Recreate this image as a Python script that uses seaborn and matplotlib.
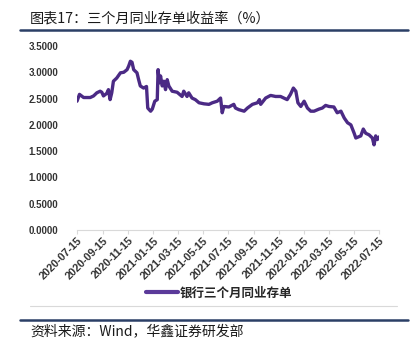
"""
Three-month interbank NCD yield (2020-07 to 2022-07), recreated with seaborn.
"""
import matplotlib
matplotlib.use("Agg")
import matplotlib.pyplot as plt
import matplotlib.dates as mdates
from matplotlib.lines import Line2D
import seaborn as sns
import pandas as pd

# values
dates = [
    "2020-07-15", "2020-07-21", "2020-07-31", "2020-08-16", "2020-08-24", "2020-09-01",
    "2020-09-09", "2020-09-13", "2020-09-17", "2020-09-25", "2020-09-29", "2020-10-03",
    "2020-10-07", "2020-10-11", "2020-10-19", "2020-10-28", "2020-11-05", "2020-11-13",
    "2020-11-17", "2020-11-21", "2020-11-25", "2020-11-29", "2020-12-07", "2020-12-11",
    "2020-12-15", "2020-12-23", "2020-12-30", "2021-01-02", "2021-01-09", "2021-01-13",
    "2021-01-19", "2021-01-25", "2021-01-27", "2021-01-30", "2021-02-02", "2021-02-06",
    "2021-02-10", "2021-02-14", "2021-02-18", "2021-02-22", "2021-03-02", "2021-03-14",
    "2021-03-26", "2021-03-30", "2021-04-07", "2021-04-11", "2021-04-19", "2021-04-27",
    "2021-05-06", "2021-05-18", "2021-05-30", "2021-06-07", "2021-06-19", "2021-06-27",
    "2021-07-01", "2021-07-05", "2021-07-17", "2021-07-29", "2021-08-02", "2021-08-10",
    "2021-08-23", "2021-08-31", "2021-09-12", "2021-09-24", "2021-09-29", "2021-10-02",
    "2021-10-14", "2021-10-26", "2021-11-07", "2021-11-19", "2021-12-05", "2021-12-13",
    "2021-12-20", "2021-12-26", "2021-12-31", "2022-01-07", "2022-01-15", "2022-01-23",
    "2022-01-31", "2022-02-08", "2022-02-20", "2022-02-28", "2022-03-08", "2022-03-16",
    "2022-03-28", "2022-04-05", "2022-04-14", "2022-04-22", "2022-04-30", "2022-05-08",
    "2022-05-16", "2022-05-20", "2022-06-01", "2022-06-07", "2022-06-13", "2022-06-21",
    "2022-06-29", "2022-07-03", "2022-07-07", "2022-07-11", "2022-07-15",
]
yields = [
    2.45, 2.58, 2.52, 2.52, 2.55, 2.61,
    2.64, 2.62, 2.55, 2.60, 2.67, 2.48,
    2.61, 2.83, 2.89, 2.99, 3.00, 3.05,
    3.12, 3.21, 3.19, 3.05, 2.99, 2.86,
    2.74, 2.70, 2.73, 2.32, 2.26, 2.30,
    2.45, 2.48, 3.05, 2.80, 2.93, 2.74,
    2.83, 2.67, 2.86, 2.74, 2.64, 2.62,
    2.54, 2.64, 2.54, 2.61, 2.51, 2.48,
    2.42, 2.40, 2.39, 2.42, 2.45, 2.51,
    2.23, 2.35, 2.34, 2.39, 2.32, 2.29,
    2.26, 2.32, 2.39, 2.42, 2.48, 2.39,
    2.51, 2.56, 2.54, 2.54, 2.48, 2.58,
    2.70, 2.64, 2.42, 2.35, 2.45, 2.32,
    2.26, 2.26, 2.30, 2.32, 2.37, 2.35,
    2.34, 2.23, 2.26, 2.13, 2.04, 2.00,
    1.84, 1.75, 1.79, 1.92, 1.84, 1.81,
    1.75, 1.62, 1.79, 1.72, 1.77,
]
tick_dates = [
    "2020-07-15", "2020-09-15", "2020-11-15", "2021-01-15", "2021-03-15", "2021-05-15",
    "2021-07-15", "2021-09-15", "2021-11-15", "2022-01-15", "2022-03-15", "2022-05-15",
    "2022-07-15",
]
y_ticks = [0.0, 0.5, 1.0, 1.5, 2.0, 2.5, 3.0, 3.5]
series_name = "银行三个月同业存单"
title = "图表17：三个月同业存单收益率（%）"
source = "资料来源：Wind，华鑫证券研发部"

df = pd.DataFrame({"date": pd.to_datetime(dates), "value": yields, "series": series_name})

sns.set_style("white")
plt.rcParams["font.family"] = ["Noto Sans CJK SC", "DejaVu Sans"]

W, H = 418, 352
fig = plt.figure(figsize=(W / 100, H / 100), dpi=100)
ax = fig.add_axes([77 / W, 1 - 230 / H, 302 / W, 184 / H])

sns.lineplot(data=df, x="date", y="value", hue="series", palette=["#4B2A85"],
             linewidth=2.4, ax=ax, legend=False)

ticks = pd.to_datetime(tick_dates)
ax.set_xlim(ticks[0], ticks[-1])
ax.set_ylim(0, 3.5)
ax.set_xticks(ticks)
ax.xaxis.set_major_formatter(mdates.DateFormatter("%Y-%m-%d"))
ax.set_yticks(y_ticks)
ax.set_yticklabels([f"{v:.4f}" for v in y_ticks])
ax.set_xlabel("")
ax.set_ylabel("")

for s in ["top", "right", "left"]:
    ax.spines[s].set_visible(False)
ax.spines["bottom"].set_color("#d9d9d9")
ax.spines["bottom"].set_linewidth(0.8)
ax.tick_params(axis="x", bottom=True, length=3, color="#d9d9d9", pad=1)
ax.tick_params(axis="y", left=False, pad=10)
for lab in ax.get_yticklabels():
    lab.set_family(["Liberation Sans", "DejaVu Sans"])
    lab.set_fontsize(7)
    lab.set_fontweight("bold")
    lab.set_color("#333333")
for lab in ax.get_xticklabels():
    lab.set_family(["Liberation Sans", "DejaVu Sans"])
    lab.set_fontsize(7.8)
    lab.set_fontweight("bold")
    lab.set_color("#333333")
    lab.set_rotation(45)
    lab.set_ha("right")
    lab.set_rotation_mode("anchor")

# legend
handle = Line2D([], [], color="#5B3A9A", linewidth=3)
fig.legend([handle], [series_name], loc="center", bbox_to_anchor=(219 / W, 1 - 293 / H),
           frameon=False, handlelength=2.6, handletextpad=0.1,
           prop={"family": ["Noto Sans CJK SC", "DejaVu Sans"], "size": 9, "weight": "bold"})

# title, rules and source
fig.text(30 / W, 1 - 18 / H, title, fontsize=10.2, color="#1a1a1a", va="center", ha="left")
fig.add_artist(Line2D([20 / W, 408 / W], [1 - 30 / H, 1 - 30 / H], color="#2B3F66", linewidth=1.8))
fig.add_artist(Line2D([30 / W, 397 / W], [1 - 306 / H, 1 - 306 / H], color="#d9d9d9", linewidth=0.8))
fig.add_artist(Line2D([20 / W, 408 / W], [1 - 320 / H, 1 - 320 / H], color="#2B3F66", linewidth=1.8))
fig.text(30 / W, 1 - 331 / H, source, fontsize=10, color="#1a1a1a", va="center", ha="left")

fig.savefig("out.png", dpi=100)
